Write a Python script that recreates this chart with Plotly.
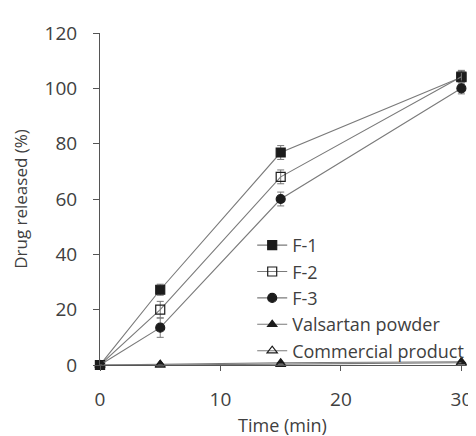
import plotly.graph_objects as go

time = [0, 5, 15, 30]
f1 = [0, 27.2, 76.8, 104.0]
f1_err = [0, 2.0, 2.5, 2.5]
f2 = [0, 20.0, 68.0, 104.2]
f2_err = [0, 3.0, 2.5, 2.0]
f3 = [0, 13.5, 60.0, 100.0]
f3_err = [0, 3.5, 2.5, 2.0]
valsartan = [0, 0.3, 0.8, 1.2]
commercial = [0, 0.0, 0.3, 0.8]
x_ticks = [0, 10, 20, 30]
y_ticks = [0, 20, 40, 60, 80, 100, 120]

line_col = "#7a7a7a"
mk_col = "#1c1c1c"
txt_col = "#404040"
axis_col = "#555555"
FONT = "Open Sans"

series = [
    ("F-1", f1, f1_err, "square", 9),
    ("F-2", f2, f2_err, "square-open", 9),
    ("F-3", f3, f3_err, "circle", 9),
    ("Valsartan powder", valsartan, None, "triangle-up", 8),
    ("Commercial product", commercial, None, "triangle-up-open", 9),
]

fig = go.Figure()
for name, ys, err, sym, sz in series:
    kw = {}
    if err is not None:
        kw["error_y"] = dict(type="data", array=err, visible=True, color="#777777", thickness=1, width=3.5)
    fig.add_trace(go.Scatter(
        x=time, y=ys, name=name, mode="lines+markers",
        line=dict(color=line_col, width=1.1),
        marker=dict(symbol=sym, size=sz, color=mk_col, line=dict(color=mk_col, width=1.2)),
        cliponaxis=False, **kw))

fig.update_layout(
    width=476, height=436,
    margin=dict(l=92, r=15, t=16, b=74),
    paper_bgcolor="white", plot_bgcolor="white",
    font=dict(family=FONT, size=18, color=txt_col),
    showlegend=True,
    legend=dict(x=0.417, y=0.416, xanchor="left", yanchor="top",
                bgcolor="rgba(0,0,0,0)", font=dict(size=18, color=txt_col),
                itemwidth=30, tracegroupgap=0),
)
fig.update_xaxes(range=[0, 30.3], tickvals=x_ticks, ticks="outside", ticklen=5,
                 tickcolor=axis_col, showline=True, linecolor=axis_col, linewidth=1,
                 showgrid=False, zeroline=False, ticklabelstandoff=12,
                 title=dict(text="Time (min)", font=dict(size=18), standoff=8),
                 tickfont=dict(size=19))
fig.update_yaxes(range=[0, 120], tickvals=y_ticks, ticks="outside", ticklen=6,
                 tickcolor=axis_col, showline=True, linecolor=axis_col, linewidth=1,
                 showgrid=False, zeroline=False, ticklabelstandoff=12,
                 title=dict(text="Drug released (%)", font=dict(size=17), standoff=12),
                 tickfont=dict(size=19))

fig.write_html("out.html")
